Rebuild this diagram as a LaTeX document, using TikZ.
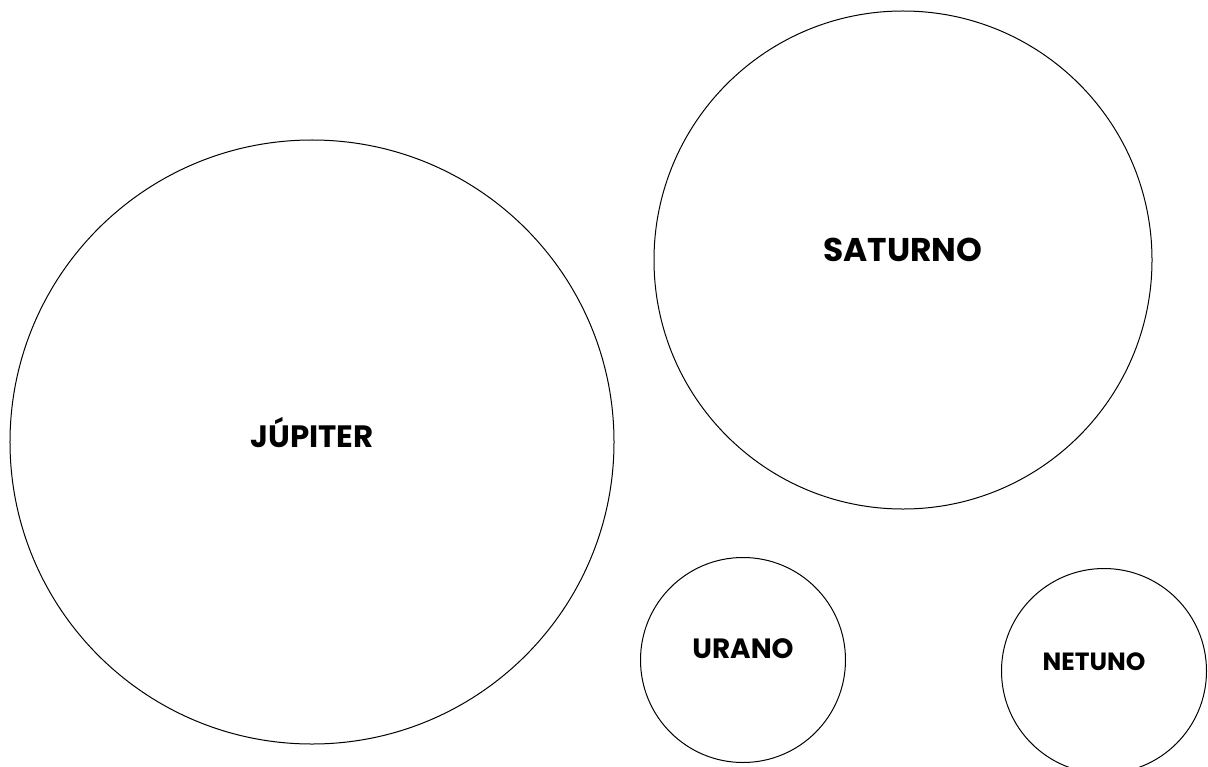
\documentclass[tikz,border=0pt]{standalone}
\usepackage{fontspec}
\setmainfont{Poppins}
\begin{document}
\begin{tikzpicture}[x=1bp, y=-1bp,
    planet/.style={draw, circle, line width=1bp, inner sep=0pt},
    planetname/.style={anchor=base, inner sep=0pt, font=\bfseries\fontsize{#1}{#1}\selectfont}]
    \clip (0,0) rectangle (1208,767);

    % Planets
    \node[planet, minimum size=604bp] (jupiter) at (312,442) {};
    \node[planet, minimum size=498bp] (saturno) at (903,260) {};
    \node[planet, minimum size=205bp] (urano) at (743,660) {};
    \node[planet, minimum size=205bp] (netuno) at (1104,671) {};

    % Names
    \node[planetname=31] (jupitertxt) at (312,447) {JÚPITER};
    \node[planetname=33] (saturnotxt) at (903,261) {SATURNO};
    \node[planetname=28] (uranotxt) at (743,658) {URANO};
    \node[planetname=25] (netunotxt) at (1094,670) {NETUNO};
\end{tikzpicture}
\end{document}
